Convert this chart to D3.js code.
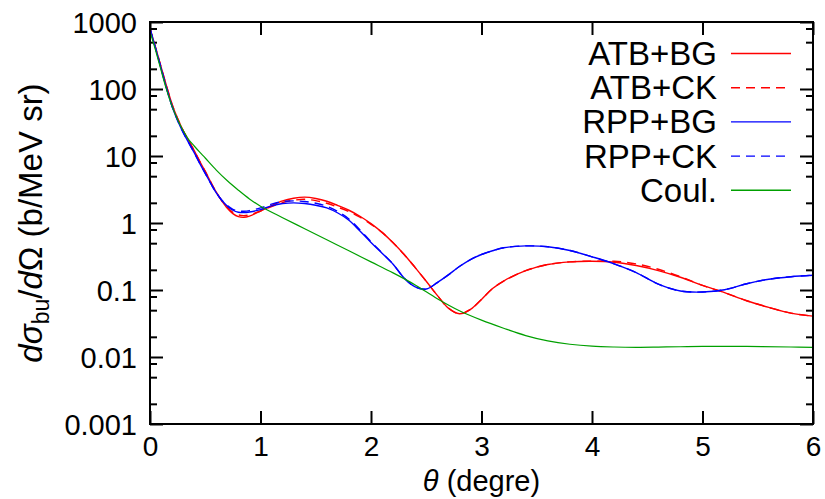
<!DOCTYPE html>
<html><head><meta charset="utf-8">
<script src="https://cdn.jsdelivr.net/npm/d3@7"></script>
<style>
body{margin:0;background:#fff} svg{display:block}
</style>
</head><body>
<svg id="chart" width="825" height="499"></svg>
<script>
// ---- data ----
const theta = [0,0.05,0.1,0.15,0.2,0.25,0.3,0.35,0.4,0.45,0.5,0.55,0.6,0.65,0.7,0.75,0.8,0.85,0.9,1.0,1.1,1.2,1.3,1.4,1.5,1.6,1.7,1.8,1.9,2.0,2.1,2.2,2.3,2.4,2.5,2.6,2.7,2.8,2.9,3.0,3.1,3.2,3.4,3.6,3.8,4.0,4.2,4.4,4.6,4.8,5.0,5.2,5.4,5.6,5.8,6.0];
const atbBG = [794,417,214,110,58.9,36.3,24.0,17.0,12.0,8.32,5.89,4.07,2.88,2.14,1.66,1.38,1.245,1.216,1.27,1.51,1.82,2.14,2.34,2.43,2.32,2.11,1.82,1.55,1.26,0.977,0.724,0.507,0.339,0.216,0.135,0.0832,0.0537,0.0442,0.0513,0.0724,0.105,0.136,0.195,0.240,0.263,0.269,0.260,0.232,0.195,0.155,0.117,0.0912,0.0692,0.055,0.0452,0.0407];
const atbCK = [794,417,214,110,58.9,36.3,24.0,17.0,12.0,8.32,5.89,4.07,2.88,2.14,1.70,1.445,1.32,1.29,1.32,1.51,1.76,2.02,2.19,2.26,2.16,1.97,1.72,1.48,1.22,0.955,0.724,0.507,0.339,0.216,0.135,0.0832,0.0537,0.0442,0.0513,0.0724,0.105,0.136,0.195,0.240,0.263,0.269,0.269,0.245,0.204,0.158,0.117,0.0912,0.0692,0.055,0.0452,0.0407];
const rppBG = [794,407,204,102,55.0,33.9,22.4,15.8,11.2,7.76,5.50,3.89,2.82,2.19,1.78,1.55,1.445,1.43,1.46,1.585,1.80,1.95,2.0,1.95,1.84,1.68,1.41,1.10,0.759,0.513,0.355,0.243,0.151,0.111,0.1035,0.129,0.168,0.224,0.285,0.339,0.385,0.427,0.455,0.442,0.389,0.313,0.246,0.182,0.122,0.0966,0.0933,0.101,0.124,0.145,0.158,0.166];
const rppCK = [794,407,204,102,55.0,33.9,22.4,15.8,11.2,7.76,5.50,3.89,2.82,2.19,1.82,1.60,1.51,1.50,1.53,1.68,1.91,2.09,2.14,2.09,1.97,1.78,1.48,1.15,0.794,0.525,0.359,0.243,0.151,0.111,0.1035,0.129,0.168,0.224,0.285,0.339,0.385,0.427,0.455,0.442,0.389,0.313,0.246,0.182,0.122,0.0966,0.0933,0.101,0.124,0.145,0.158,0.166];
const thetaCoul = [0,0.05,0.1,0.15,0.2,0.25,0.3,0.35,0.4,0.45,0.5,0.6,0.7,0.8,0.9,1.0,1.2,1.4,1.6,1.8,2.0,2.2,2.4,2.6,2.8,3.0,3.2,3.4,3.6,3.8,4.0,4.2,4.4,4.6,4.8,5.0,5.4,5.8,6.0];
const coul = [724,380,191,97.7,55.0,34.7,24.0,17.6,14.1,11.4,9.33,6.17,4.27,3.09,2.29,1.78,1.20,0.822,0.562,0.385,0.263,0.180,0.119,0.0741,0.049,0.0355,0.0269,0.0209,0.0174,0.0155,0.0145,0.0141,0.01396,0.01406,0.01422,0.01436,0.01436,0.0141,0.01396];

const xTicks = [0,1,2,3,4,5,6];
const yTicks = [0.001,0.01,0.1,1,10,100,1000];
const yTickLabels = ["0.001","0.01","0.1","1","10","100","1000"];
const minorMantissas = [2,5,8];
const legendLabels = ["ATB+BG","ATB+CK","RPP+BG","RPP+CK","Coul."];
const seriesList = [atbBG, atbCK, rppBG, rppCK];
const colors = ["#ff0000","#ff0000","#0000ff","#0000ff","#00a000"];
const dashes = [null,"9,6",null,"9,6",null];

// ---- layout ----
const L = 150, R = 813, T = 22, B = 424;
const FONT = "Liberation Sans, Arial, sans-serif";

const svg = d3.select("#chart");
const x = d3.scaleLinear().domain([0,6]).range([L,R]);
const y = d3.scaleLog().domain([0.001,1000]).range([B,T]);

svg.append("defs").append("clipPath").attr("id","clip")
  .append("rect").attr("x",L).attr("y",T).attr("width",R-L).attr("height",B-T);

const minorVals = [];
for (let k=-3;k<3;k++) minorMantissas.forEach(m=>minorVals.push(m*Math.pow(10,k)));

function styleAxis(g){
  g.attr("font-family",FONT);
  g.select(".domain").remove();
  g.selectAll(".tick line").attr("stroke","#000").attr("stroke-width",2);
  g.selectAll("text").attr("font-size",29).attr("fill","#000");
}

const gl = svg.append("g").attr("transform",`translate(${L},0)`)
  .call(d3.axisLeft(y).tickValues(yTicks).tickFormat((d,i)=>yTickLabels[i]).tickSize(-13).tickPadding(13));
styleAxis(gl);
gl.selectAll("text").attr("dy","0.35em");
svg.append("g").attr("transform",`translate(${L},0)`)
  .call(d3.axisLeft(y).tickValues(minorVals).tickFormat("").tickSize(-7)).call(styleAxis);
svg.append("g").attr("transform",`translate(${R},0)`)
  .call(d3.axisRight(y).tickValues(yTicks).tickFormat("").tickSize(-13)).call(styleAxis);
svg.append("g").attr("transform",`translate(${R},0)`)
  .call(d3.axisRight(y).tickValues(minorVals).tickFormat("").tickSize(-7)).call(styleAxis);
const gb = svg.append("g").attr("transform",`translate(0,${B})`)
  .call(d3.axisBottom(x).tickValues(xTicks).tickFormat(d3.format("d")).tickSize(-13).tickPadding(14));
styleAxis(gb);
gb.selectAll("text").attr("font-size",28).attr("dy","0.66em");
svg.append("g").attr("transform",`translate(0,${T})`)
  .call(d3.axisTop(x).tickValues(xTicks).tickFormat("").tickSize(-13)).call(styleAxis);

const line = d3.line().x((d)=>x(d[0])).y((d)=>y(d[1])).curve(d3.curveCatmullRom.alpha(0.5));
const plot = svg.append("g").attr("clip-path","url(#clip)");
seriesList.forEach((s,i)=>{
  plot.append("path").datum(theta.map((t,j)=>[t,s[j]]))
    .attr("d",line).attr("fill","none").attr("stroke",colors[i]).attr("stroke-width",1.4)
    .attr("stroke-dasharray",dashes[i]);
});
plot.append("path").datum(thetaCoul.map((t,j)=>[t,coul[j]]))
  .attr("d",line).attr("fill","none").attr("stroke",colors[4]).attr("stroke-width",1.2);

svg.append("rect").attr("x",L).attr("y",T).attr("width",R-L).attr("height",B-T)
  .attr("fill","none").attr("stroke","#000").attr("stroke-width",2);

const lg = svg.append("g").attr("font-family",FONT);
legendLabels.forEach((lab,i)=>{
  const ly = 53.5 + i*34.2;
  lg.append("text").attr("x",717).attr("y",ly+11.5).attr("text-anchor","end")
    .attr("font-size",33).attr("fill","#000").text(lab);
  lg.append("line").attr("x1",731).attr("x2",791).attr("y1",ly).attr("y2",ly)
    .attr("stroke",colors[i]).attr("stroke-width",1.4).attr("stroke-dasharray",dashes[i]);
});

const xl = svg.append("text").attr("x",(L+R)/2).attr("y",491).attr("text-anchor","middle")
  .attr("font-family",FONT).attr("font-size",29).attr("fill","#000");
xl.append("tspan").attr("font-style","italic").text("θ");
xl.append("tspan").text(" (degre)");

const yl = svg.append("text").attr("transform",`translate(42,${(T+B)/2}) rotate(-90)`)
  .attr("text-anchor","middle").attr("font-family",FONT).attr("font-size",33).attr("fill","#000");
yl.append("tspan").attr("font-style","italic").text("dσ");
yl.append("tspan").attr("font-size",23).attr("dy",7).text("bu");
yl.append("tspan").attr("dy",-7).text("/");
yl.append("tspan").attr("font-style","italic").text("d");
yl.append("tspan").text("Ω (b/MeV sr)");
</script>
</body></html>
